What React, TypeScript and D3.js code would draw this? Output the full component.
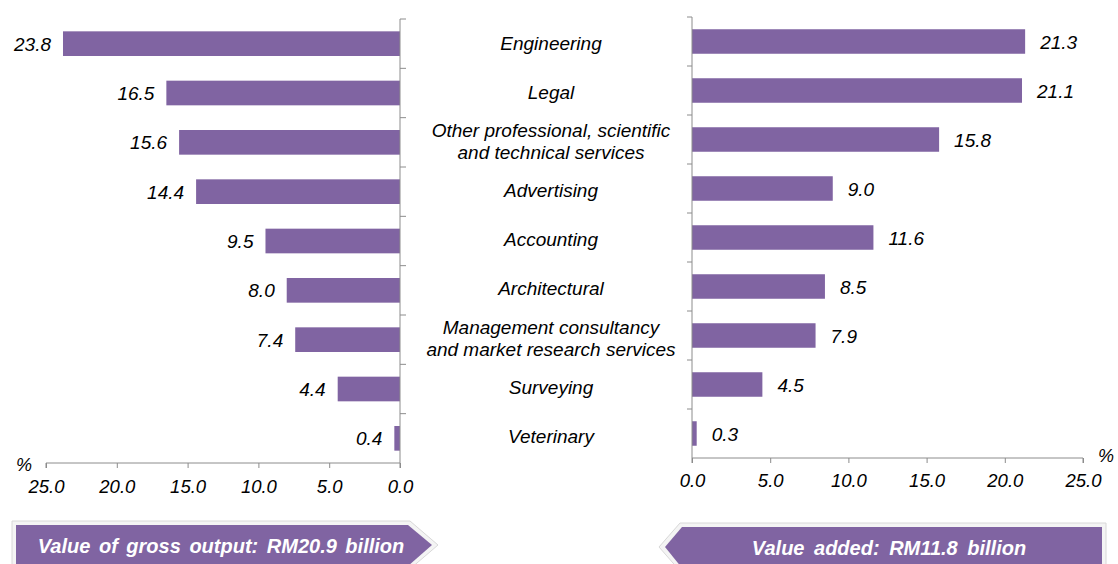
import React, { useEffect, useRef } from "react";
import * as d3 from "d3";

const categories = [
  "Engineering",
  "Legal",
  "Other professional, scientific|and technical services",
  "Advertising",
  "Accounting",
  "Architectural",
  "Management consultancy|and market research services",
  "Surveying",
  "Veterinary",
];
const grossOutput = [23.8, 16.5, 15.6, 14.4, 9.5, 8.0, 7.4, 4.4, 0.4];
const valueAdded = [21.3, 21.1, 15.8, 9.0, 11.6, 8.5, 7.9, 4.5, 0.3];
const xTicks = [0, 5, 10, 15, 20, 25];
const grossTitle = "Value of gross output: RM20.9 billion";
const addedTitle = "Value added: RM11.8 billion";

const FONT = "'Liberation Sans', Arial, sans-serif";
const PURPLE = "#8064a2";
const AXIS = "#8c8c8c";

function App() {
  const ref = useRef<SVGSVGElement>(null);

  function drawChart() {
    const svg = d3.select(ref.current);
    svg.selectAll("*").remove();

    // left panel (reversed)
    const xl = d3.scaleLinear().domain([0, 25]).range([400, 46]);
    const yl = d3.scaleBand().domain(categories).range([19, 463]).paddingInner(0.5).paddingOuter(0.25);
    const yr = d3.scaleBand().domain(categories).range([17, 458]).paddingInner(0.5).paddingOuter(0.25);
    const xr = d3.scaleLinear().domain([0, 25]).range([692, 1083]);

    const left = svg.append("g");
    left
      .selectAll("rect")
      .data(grossOutput)
      .enter()
      .append("rect")
      .attr("x", (d) => xl(d))
      .attr("y", (d, i) => yl(categories[i])!)
      .attr("width", (d) => 400 - xl(d))
      .attr("height", yl.bandwidth())
      .attr("fill", PURPLE);
    left
      .selectAll("text.val")
      .data(grossOutput)
      .enter()
      .append("text")
      .attr("class", "val")
      .attr("x", (d) => xl(d) - 12)
      .attr("y", (d, i) => yl(categories[i])! + yl.bandwidth() / 2 + 7)
      .attr("text-anchor", "end")
      .text((d) => d.toFixed(1));

    const right = svg.append("g");
    right
      .selectAll("rect")
      .data(valueAdded)
      .enter()
      .append("rect")
      .attr("x", 692)
      .attr("y", (d, i) => yr(categories[i])!)
      .attr("width", (d) => xr(d) - 692)
      .attr("height", yr.bandwidth())
      .attr("fill", PURPLE);
    right
      .selectAll("text.val")
      .data(valueAdded)
      .enter()
      .append("text")
      .attr("class", "val")
      .attr("x", (d) => xr(d) + 15)
      .attr("y", (d, i) => yr(categories[i])! + yr.bandwidth() / 2 + 7)
      .text((d) => d.toFixed(1));

    svg.selectAll("text.val").style("font-size", "19px").style("font-style", "italic").attr("fill", "#000");

    // x axes
    const gxl = svg
      .append("g")
      .attr("transform", "translate(0,463)")
      .call(d3.axisBottom(xl).tickValues(xTicks).tickSize(5).tickPadding(12).tickFormat((d) => (+d).toFixed(1)));
    const gxr = svg
      .append("g")
      .attr("transform", "translate(0,458)")
      .call(d3.axisBottom(xr).tickValues(xTicks).tickSize(5).tickPadding(11).tickFormat((d) => (+d).toFixed(1)));
    [gxl, gxr].forEach((g) => {
      g.selectAll("line").attr("stroke", AXIS);
      g.selectAll("text").style("font-size", "18.5px").style("font-style", "italic").style("font-family", FONT).attr("fill", "#000");
    });
    gxl.select(".domain").attr("stroke", AXIS).attr("d", "M46,5V0H400V5");
    gxr.select(".domain").attr("stroke", AXIS).attr("d", "M692,5V0H1083V5");

    // category axes
    svg.append("line").attr("x1", 400).attr("x2", 400).attr("y1", 19).attr("y2", 463).attr("stroke", AXIS);
    svg.append("line").attr("x1", 692).attr("x2", 692).attr("y1", 17).attr("y2", 458).attr("stroke", AXIS);
    const bandsL = d3.range(categories.length).map((i) => 19 + (i * (463 - 19)) / categories.length);
    const bandsR = d3.range(categories.length).map((i) => 17 + (i * (458 - 17)) / categories.length);
    svg
      .selectAll("line.tl")
      .data(bandsL)
      .enter()
      .append("line")
      .attr("x1", 400)
      .attr("x2", 406)
      .attr("y1", (d) => d)
      .attr("y2", (d) => d)
      .attr("stroke", AXIS);
    svg
      .selectAll("line.tr")
      .data(bandsR)
      .enter()
      .append("line")
      .attr("x1", 687)
      .attr("x2", 692)
      .attr("y1", (d) => d)
      .attr("y2", (d) => d)
      .attr("stroke", AXIS);

    // category labels
    const labels = svg.append("g");
    categories.forEach((c) => {
      const lines = c.split("|");
      const cy = (yl(c)! + yl.bandwidth() / 2 + yr(c)! + yr.bandwidth() / 2) / 2;
      const t = labels
        .append("text")
        .attr("x", 551)
        .attr("y", cy + 7 - (lines.length - 1) * 11)
        .attr("text-anchor", "middle")
        .style("font-size", "19px")
        .style("font-style", "italic");
      lines.forEach((l, j) => {
        t.append("tspan").attr("x", 551).attr("dy", j === 0 ? 0 : 22).text(l);
      });
    });

    svg.append("text").attr("x", 16).attr("y", 471).text("%").style("font-size", "18px").style("font-style", "italic");
    svg.append("text").attr("x", 1098).attr("y", 462).text("%").style("font-size", "18px").style("font-style", "italic");

    // banners
    const lb = svg.append("g");
    lb.append("path").attr("d", "M12,521H410L438,545L410,569H12Z").attr("fill", "#f4f4f4").attr("stroke", "#d8d8d8");
    lb.append("path").attr("d", "M16,525H408L432,545L408,566H16Z").attr("fill", PURPLE);
    lb.append("text")
      .attr("x", 221)
      .attr("y", 553)
      .attr("text-anchor", "middle")
      .attr("fill", "#fff")
      .style("font-size", "20px")
      .style("word-spacing", "3px")
      .style("font-weight", "bold")
      .style("font-style", "italic")
      .text(grossTitle);

    const rb = svg.append("g");
    rb.append("path").attr("d", "M1106,523H680L659,547L680,571H1106Z").attr("fill", "#f4f4f4").attr("stroke", "#d8d8d8");
    rb.append("path").attr("d", "M1102,527H682L665,547L682,568H1102Z").attr("fill", PURPLE);
    rb.append("text")
      .attr("x", 889)
      .attr("y", 555)
      .attr("text-anchor", "middle")
      .attr("fill", "#fff")
      .style("font-size", "20px")
      .style("word-spacing", "4px")
      .style("font-weight", "bold")
      .style("font-style", "italic")
      .text(addedTitle);
  }

  useEffect(() => {
    drawChart();
  }, []);

  return (
    <svg
      ref={ref}
      width={1118}
      height={564}
      style={{ position: "absolute", left: 0, top: 0, fontFamily: FONT, background: "#fff" }}
    ></svg>
  );
}

export default App;
